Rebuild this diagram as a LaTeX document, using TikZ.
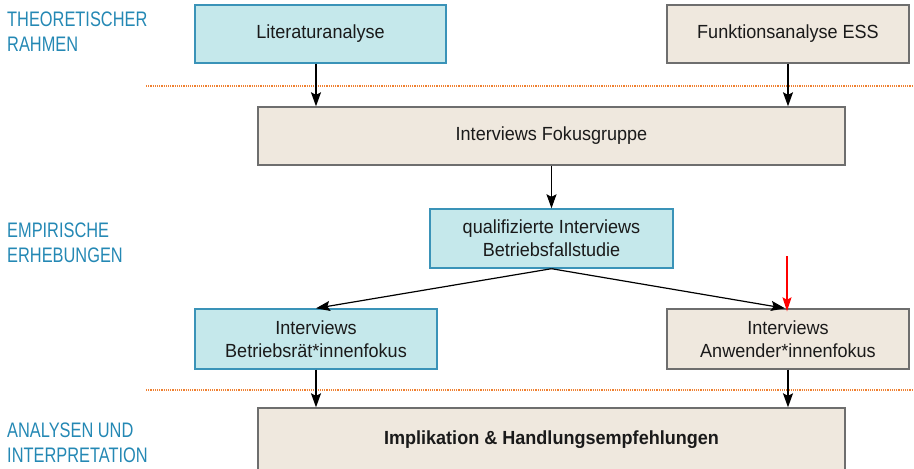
\documentclass[tikz,border=0pt]{standalone}
\usepackage{fontspec}
\setmainfont{Liberation Sans}[FakeStretch=0.95]
\newfontfamily\labelfont{Liberation Sans}[FakeStretch=0.78]
\usetikzlibrary{arrows.meta,positioning}
\definecolor{cyanfill}{HTML}{C5E8EB}
\definecolor{cyanline}{HTML}{3A93B8}
\definecolor{beigefill}{HTML}{EFE8DE}
\definecolor{beigeline}{HTML}{6E6E6E}
\definecolor{labelblue}{HTML}{2488B4}
\definecolor{dotorange}{HTML}{F08030}
\definecolor{textdark}{HTML}{1A1A1A}
\begin{document}
\begin{tikzpicture}[x=1pt,y=-1pt,
  box/.style={draw, line width=1.4pt, inner sep=0pt, align=center, text=textdark,
    font=\fontsize{19}{23}\selectfont},
  cyanbox/.style={box, fill=cyanfill, draw=cyanline},
  beigebox/.style={box, fill=beigefill, draw=beigeline},
  seclabel/.style={anchor=north west, align=left, inner sep=0pt, text=labelblue,
    font=\labelfont\fontsize{21}{25}\selectfont},
  flow/.style={-{Stealth[length=14pt,width=10pt,inset=2.5pt]}, line width=1.2pt, black},
  redflow/.style={-{Stealth[length=14pt,width=9pt,inset=2.5pt]}, line width=1.2pt, red},
  sepline/.style={dotorange, line width=1.1pt, dash pattern=on 1.1pt off 1.1pt}
]
\useasboundingbox (0,0) rectangle (914,469);
\clip (0,0) rectangle (914,469);

\node[seclabel] (l1) at (7,12) {THEORETISCHER\\RAHMEN};
\node[seclabel] (l2) at (7,223) {EMPIRISCHE\\ERHEBUNGEN};
\node[seclabel] (l3) at (7,423) {ANALYSEN UND\\INTERPRETATION};

\coordinate (s1a) at (146,86);
\coordinate (s1b) at (914,86);
\coordinate (s2a) at (146,390);
\coordinate (s2b) at (914,390);
\draw[sepline] (s1a) -- (s1b);
\draw[sepline] (s2a) -- (s2b);

\node[cyanbox, minimum width=251pt, minimum height=58pt] (lit) at (320.5,34) {Literaturanalyse};
\node[beigebox, minimum width=242pt, minimum height=58pt] (fun) at (788,34) {Funktionsanalyse ESS};
\node[beigebox, minimum width=587pt, minimum height=58pt] (fok) at (551.5,136) {Interviews Fokusgruppe};
\node[cyanbox, minimum width=243pt, minimum height=59pt] (qua) at (551.5,238.5) {qualifizierte Interviews\\Betriebsfallstudie};
\node[cyanbox, minimum width=242pt, minimum height=60pt] (bet) at (316,339) {Interviews\\Betriebsrät*innenfokus};
\node[beigebox, minimum width=242pt, minimum height=60pt] (anw) at (788,339) {Interviews\\Anwender*innenfokus};
\node[beigebox, minimum width=587pt, minimum height=64pt] (imp) at (551.5,440) {\textbf{Implikation \& Handlungsempfehlungen}};

\draw[flow] (lit.south -| bet.north) -- (fok.north -| bet.north);
\draw[flow] (fun.south) -- (fok.north -| fun.south);
\draw[flow] (fok.south) -- (qua.north);
\draw[flow] (qua.south) -- (bet.north);
\draw[flow] (qua.south) -- ([xshift=-3pt]anw.north);
\draw[flow] (bet.south) -- (imp.north -| bet.south);
\draw[flow] (anw.south) -- (imp.north -| anw.south);

\coordinate (redstart) at (787,256);
\draw[redflow] (redstart) -- ([yshift=-3pt]redstart |- anw.north);
\end{tikzpicture}
\end{document}
